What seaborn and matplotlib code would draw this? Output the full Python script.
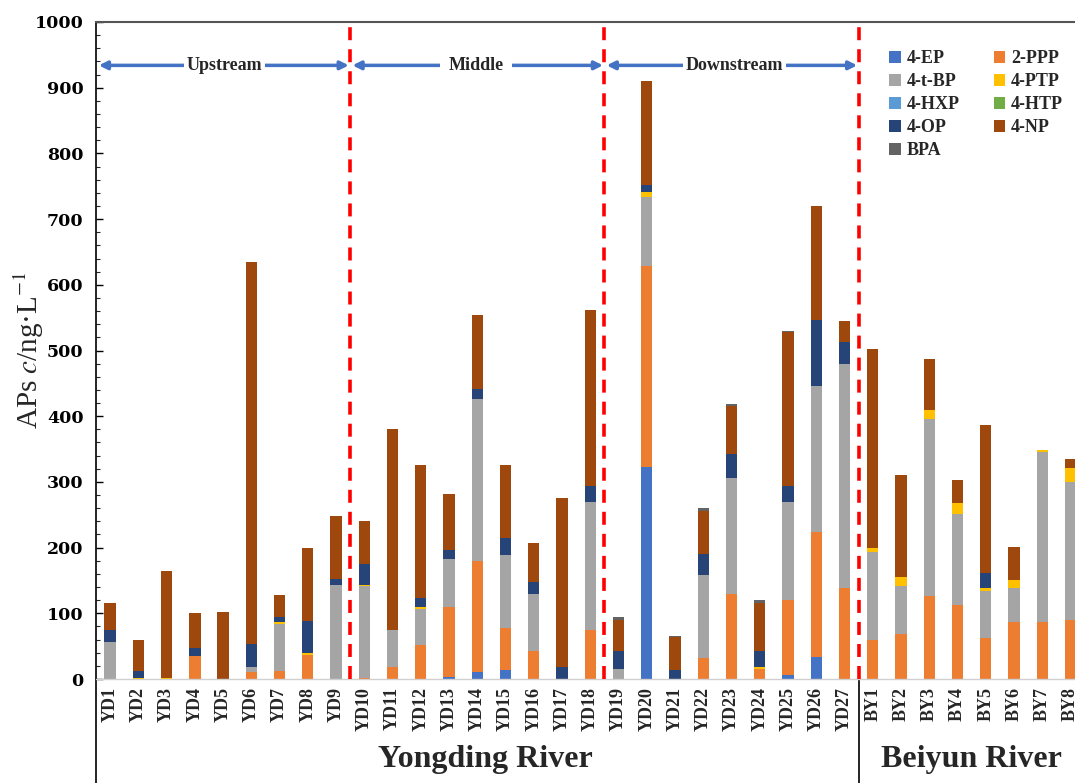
import numpy as np
import pandas as pd
import matplotlib
matplotlib.use("Agg")
import matplotlib.pyplot as plt
import matplotlib.transforms as mtransforms
from matplotlib.lines import Line2D
from matplotlib.patches import Patch
import seaborn as sns

# ---------------- data ----------------
sites = [f"YD{i}" for i in range(1, 28)] + [f"BY{i}" for i in range(1, 9)]

ep_4 = [0, 0, 0, 0, 0, 0, 0, 0, 0, 0, 0, 0, 3, 10, 14, 0, 0, 0,
        0, 322, 0, 0, 0, 0, 6, 34, 0,
        0, 0, 0, 0, 0, 0, 0, 0]
ppp_2 = [0, 0, 0, 35, 0, 11, 12, 37, 0, 2, 19, 51, 107, 170, 64, 43, 0, 75,
         0, 306, 0, 32, 130, 15, 114, 189, 139,
         59, 68, 126, 113, 63, 87, 86, 90]
tbp_4 = [56, 0, 0, 0, 0, 8, 72, 0, 143, 140, 56, 55, 73, 246, 111, 87, 0, 194,
         15, 106, 0, 127, 176, 0, 149, 223, 340,
         134, 74, 270, 138, 71, 52, 259, 210]
ptp_4 = [0, 1.5, 2, 0, 0, 0, 3, 2, 0, 1.5, 0, 4, 0, 0, 0, 0, 0, 0,
         0, 8, 0, 0, 0, 3, 0, 0, 0,
         6, 13, 13, 17, 4, 11, 4, 21]
hxp_4 = [0] * 35
htp_4 = [0] * 35
op_4 = [19, 10, 0, 12, 0, 35, 8, 50, 9, 32, 0, 14, 13, 16, 26, 17, 19, 24,
        28, 10, 14, 31, 37, 24, 25, 100, 34,
        0, 0, 0, 0, 23, 0, 0, 0]
np_4 = [40, 47.5, 163, 53, 102, 581, 33, 111, 96, 65, 306, 202, 86, 112, 111, 60, 257, 268,
        47, 158, 50, 66, 73, 74, 234, 174, 32,
        304, 155, 78, 35, 226, 51, 0, 14]
bpa = [0, 0, 0, 0, 0, 0, 0, 0, 0, 0, 0, 0, 0, 0, 0, 0, 0, 0,
       5, 0, 1, 5, 2, 4, 2, 0, 0,
       0, 0, 0, 0, 0, 0, 0, 0]

compounds = ["4-EP", "2-PPP", "4-t-BP", "4-PTP", "4-HXP", "4-HTP", "4-OP", "4-NP", "BPA"]
series = [ep_4, ppp_2, tbp_4, ptp_4, hxp_4, htp_4, op_4, np_4, bpa]
colors = ["#4472C4", "#ED7D31", "#A5A5A5", "#FFC000", "#5B9BD5",
          "#70AD47", "#264478", "#9E480E", "#636363"]

regions = ["Upstream", "Middle", "Downstream"]
rivers = ["Yongding River", "Beiyun River"]

# ---------------- figure ----------------
sns.set_theme(style="white")
plt.rcParams["font.family"] = ["Liberation Serif", "DejaVu Serif"]
plt.rcParams["mathtext.fontset"] = "stix"

fig = plt.figure(figsize=(10.75, 7.83), dpi=100)
ax = fig.add_axes([96 / 1075, 1 - 679 / 783, (1084.6 - 96) / 1075, (679 - 22) / 783])

df = pd.DataFrame(dict(zip(compounds, series)), index=sites)
cum = df.cumsum(axis=1)

for comp, col in reversed(list(zip(compounds, colors))):
    sns.barplot(x=sites, y=cum[comp].values, order=sites, color=col,
                saturation=1, width=0.4, errorbar=None, linewidth=0, ax=ax)

ax.set_xlim(-0.5, 34.5)
ax.set_ylim(0, 1000)
ax.set_yticks(np.arange(0, 1001, 100))
ax.set_yticks(np.arange(0, 1001, 20), minor=True)
ax.tick_params(axis="y", which="major", direction="in", length=5, width=1,
               left=True, pad=9, colors="black")
ax.tick_params(axis="y", which="minor", direction="in", length=3, width=0.8, left=True)
for lab in ax.get_yticklabels():
    lab.set_fontweight("bold")
    lab.set_fontfamily(["DejaVu Serif"])
    lab.set_fontsize(12.5)
ax.tick_params(axis="x", length=0, labelsize=13, pad=6)
ax.set_xticks(range(len(sites)))
ax.set_xticklabels(sites, rotation=90, fontweight="bold", va="top")
ax.set_xlabel("")
ax.set_ylabel("APs $c$/ng·L$^{-1}$", fontsize=21)
ax.yaxis.set_label_coords(-0.051, 0.5)

ax.spines["left"].set_color("black")
ax.spines["left"].set_linewidth(1.2)
ax.spines["top"].set_color("#555555")
ax.spines["top"].set_linewidth(1.5)
ax.spines["bottom"].set_color("#d0d0d0")
ax.spines["bottom"].set_linewidth(1)
ax.spines["right"].set_visible(False)

# region dividers
for xv in [8.5, 17.5, 26.5]:
    ax.axvline(xv, color="#FF0000", lw=2.6, ls=(0, (3.6, 2.5)), zorder=5)

# region arrows
arrow_col = "#4472C4"
spans = [(-0.4, 8.45), (8.58, 17.45), (17.58, 26.45)]
text_x = [4.05, 12.95, 22.1]
for (x0, x1), tx, name in zip(spans, text_x, regions):
    ax.annotate("", xy=(x1, 934), xytext=(x0, 934),
                arrowprops=dict(arrowstyle="<|-|>", color=arrow_col, lw=2.5,
                                mutation_scale=12, shrinkA=0, shrinkB=0), zorder=6)
    pad = 0.6 if name == "Middle" else 0.2
    ax.text(tx, 934, name, ha="center", va="center", fontsize=13, fontweight="bold",
            bbox=dict(facecolor="white", edgecolor="none", pad=pad * 10), zorder=7)

# Excel-like category grouping lines below the axis
trans = mtransforms.blended_transform_factory(ax.transData, ax.transAxes)
ybot = -(783 - 679) / (679 - 22) - 0.01
for xv in [-0.5, 26.5]:
    ax.add_line(Line2D([xv, xv], [0, ybot], transform=trans, color="black",
                       lw=1.2, clip_on=False))

ax.text(13.3, -0.123, rivers[0], transform=trans, ha="center", va="center",
        fontsize=23, fontweight="bold")
ax.text(30.5, -0.123, rivers[1], transform=trans, ha="center", va="center",
        fontsize=23, fontweight="bold")

# legend (row-wise order as in reference)
handles = [Patch(facecolor=c, edgecolor="none") for c in colors]
order = [0, 2, 4, 6, 8, 1, 3, 5, 7]
fig.legend([handles[i] for i in order], [compounds[i] for i in order],
           ncol=2, loc="upper left", bbox_to_anchor=(882 / 1075, 1 - 43 / 783),
           frameon=False, prop=dict(weight="bold", size=13),
           handlelength=0.65, handleheight=0.65, handletextpad=0.3,
           labelspacing=0.33, columnspacing=1.9, borderaxespad=0)

fig.savefig("out.png", dpi=100)
